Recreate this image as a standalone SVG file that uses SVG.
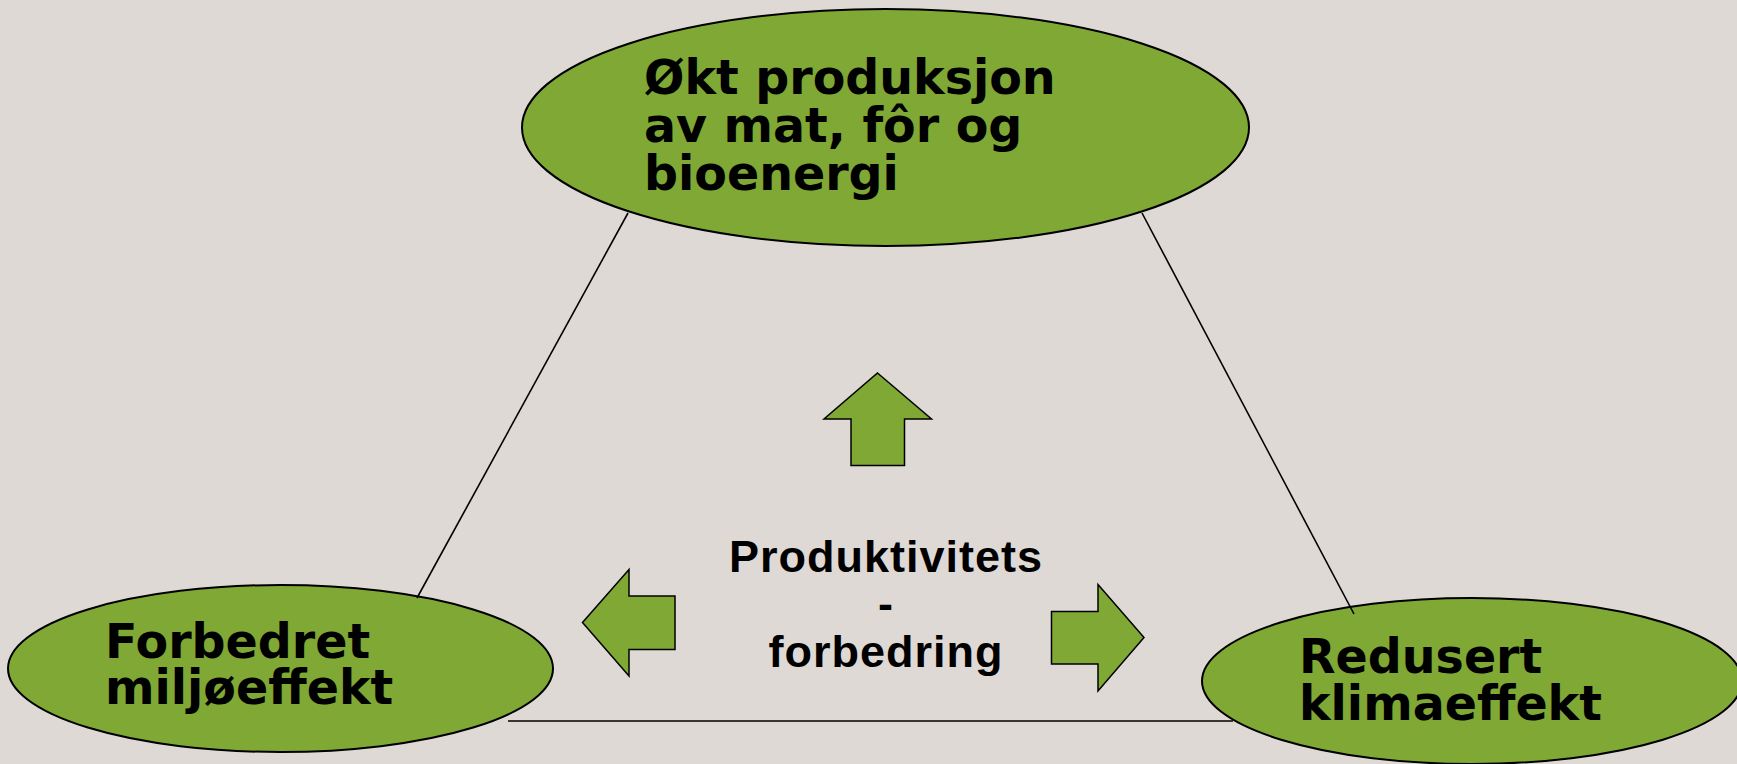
<svg xmlns="http://www.w3.org/2000/svg" width="1737" height="764" viewBox="0 0 1737 764">
  <style>
    .node { fill: #7FA834; stroke: #000; stroke-width: 2; }
    .arrow { fill: #7FA834; stroke: #000; stroke-width: 1.5; stroke-linejoin: miter; }
    .conn { stroke: #000; stroke-width: 1.6; fill: none; }
    .lbl { font-family: "DejaVu Sans", Verdana, sans-serif; font-weight: bold; font-size: 47.5px; fill: #000; }
    .center { font-family: "Liberation Sans", Arial, sans-serif; font-weight: bold; font-size: 45px; letter-spacing: 1px; fill: #000; text-anchor: middle; }
  </style>
  <rect x="0" y="0" width="1737" height="764" fill="#DFD9D5"/>

  <g id="node-top">
    <ellipse class="node" cx="885.5" cy="127.5" rx="363.5" ry="118.5"/>
    <text class="lbl"><tspan x="644" y="94">Økt produksjon</tspan><tspan x="644" y="142">av mat, fôr og</tspan><tspan x="644" y="190">bioenergi</tspan></text>
  </g>

  <g id="node-left">
    <ellipse class="node" cx="280.5" cy="668.5" rx="272.5" ry="83.5"/>
    <text class="lbl"><tspan x="105" y="658">Forbedret</tspan><tspan x="105" y="704">miljøeffekt</tspan></text>
  </g>

  <g id="node-right">
    <ellipse class="node" cx="1472" cy="681" rx="270" ry="83"/>
    <text class="lbl"><tspan x="1299" y="673">Redusert</tspan><tspan x="1299" y="720">klimaeffekt</tspan></text>
  </g>

  <g id="connectors">
    <line class="conn" x1="628" y1="213" x2="417" y2="598"/>
    <line class="conn" x1="1142" y1="213" x2="1354" y2="614"/>
    <line class="conn" x1="508" y1="721" x2="1233" y2="721"/>
  </g>

  <g id="arrow-up">
    <polygon class="arrow" points="877.5,373 931.5,419 904.5,419 904.5,465.5 851,465.5 851,419 824,419"/>
  </g>
  <g id="arrow-left">
    <polygon class="arrow" points="582.5,622.5 629,569.5 629,596 675,596 675,649.5 629,649.5 629,676"/>
  </g>
  <g id="arrow-right">
    <polygon class="arrow" points="1144,637.5 1098,584.5 1098,611.5 1051.5,611.5 1051.5,664 1098,664 1098,691"/>
  </g>

  <g id="center-label">
    <text class="center"><tspan x="886" y="572">Produktivitets</tspan><tspan x="886" y="619">-</tspan><tspan x="886" y="667">forbedring</tspan></text>
  </g>
</svg>
